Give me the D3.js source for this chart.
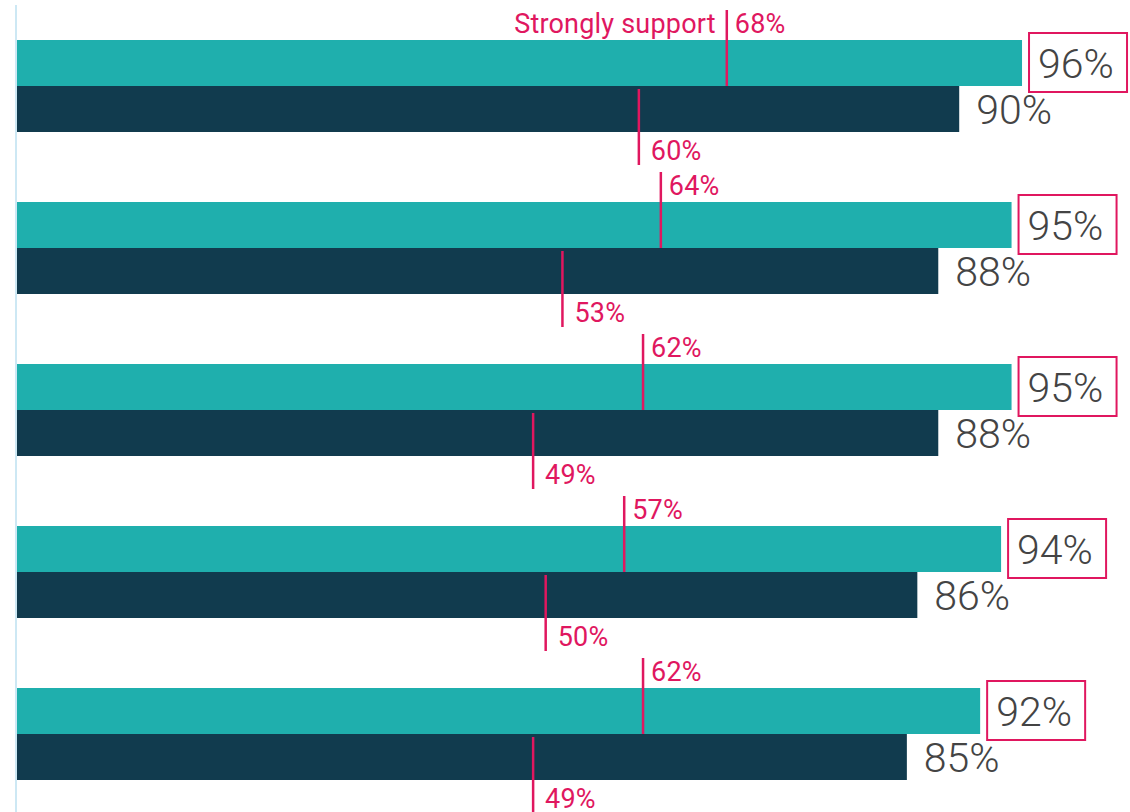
<!DOCTYPE html>
<meta charset="utf-8">
<style>
body { margin: 0; background: #fff; }
text { font-family: Roboto, 'Open Sans', sans-serif; }
.pink { fill: #e0175f; font-size: 27px; letter-spacing: 0.2px; }
.big { fill: #444; font-size: 41px; font-weight: 300; }
</style>
<svg width="1130" height="812"></svg>
<script src="https://d3js.org/d3.v7.min.js"></script>
<script>
// rows top to bottom (no row labels shown in the picture)
var groups = ["1", "2", "3", "4", "5"];
var totalTeal = [96, 95, 95, 94, 92];
var totalNavy = [90, 88, 88, 86, 85];
// strongly-support markers, positions
var strongTeal = [67.8, 61.5, 59.8, 58.0, 59.8];
var strongNavy = [59.4, 52.1, 49.3, 50.5, 49.3];
var strongTealLabels = ["68%", "64%", "62%", "57%", "62%"];
var strongNavyLabels = ["60%", "53%", "49%", "50%", "49%"];
var series = ["teal", "navy"];

var svg = d3.select("svg");
var teal = "#1fafad", navy = "#113b4e", pink = "#e0175f";

var x = d3.scaleLinear().domain([0, 100]).range([17, 17 + 1046.9]);
var y = d3.scaleBand().domain(groups).range([40, 780]).paddingInner(70 / 162).paddingOuter(0);
var ySub = d3.scaleBand().domain(series).range([0, y.bandwidth()]);
var bh = ySub.bandwidth();

// axis line on the left
svg.append("line")
	.attr("x1", 16).attr("x2", 16)
	.attr("y1", 5).attr("y2", 812)
	.attr("stroke", "#cde8f4").attr("stroke-width", 2);

var rows = groups.map(function(g, i) {
	return { g: g, teal: totalTeal[i], navy: totalNavy[i],
		sTeal: strongTeal[i], sNavy: strongNavy[i],
		lTeal: strongTealLabels[i], lNavy: strongNavyLabels[i], i: i };
});

var row = svg.selectAll("g.row")
	.data(rows)
	.enter().append("g")
	.attr("class", "row")
	.attr("transform", function(d) { return "translate(0," + y(d.g) + ")"; });

row.append("rect")
	.attr("x", x(0)).attr("y", ySub("teal"))
	.attr("width", function(d) { return x(d.teal) - x(0); })
	.attr("height", bh)
	.attr("fill", teal);

row.append("rect")
	.attr("x", x(0)).attr("y", ySub("navy"))
	.attr("width", function(d) { return x(d.navy) - x(0); })
	.attr("height", bh)
	.attr("fill", navy);

// teal marker
row.append("line")
	.attr("x1", function(d) { return x(d.sTeal); })
	.attr("x2", function(d) { return x(d.sTeal); })
	.attr("y1", ySub("teal") - 30).attr("y2", ySub("teal") + bh)
	.attr("stroke", pink).attr("stroke-width", 2.5);

row.append("text")
	.attr("class", "pink")
	.attr("x", function(d) { return x(d.sTeal) + 8; })
	.attr("y", ySub("teal") - 7)
	.text(function(d) { return d.lTeal; });

// navy marker
row.append("line")
	.attr("x1", function(d) { return x(d.sNavy); })
	.attr("x2", function(d) { return x(d.sNavy); })
	.attr("y1", ySub("navy") + 3).attr("y2", ySub("navy") + bh + 33)
	.attr("stroke", pink).attr("stroke-width", 2.5);

row.append("text")
	.attr("class", "pink")
	.attr("x", function(d) { return x(d.sNavy) + 12; })
	.attr("y", ySub("navy") + bh + 28)
	.text(function(d) { return d.lNavy; });

// "Strongly support" only on the first row
row.filter(function(d) { return d.i === 0; })
	.append("text")
	.attr("class", "pink")
	.attr("text-anchor", "end")
	.attr("x", function(d) { return x(d.sTeal) - 11; })
	.attr("y", ySub("teal") - 7)
	.text("Strongly support");

// total labels
row.append("rect")
	.attr("x", function(d) { return x(d.teal) + 7; })
	.attr("y", ySub("teal") - 7)
	.attr("width", 98).attr("height", 59)
	.attr("fill", "none").attr("stroke", pink).attr("stroke-width", 2);

row.append("text")
	.attr("class", "big")
	.attr("x", function(d) { return x(d.teal) + 16; })
	.attr("y", ySub("teal") + bh / 2 + 15)
	.text(function(d) { return d.teal + "%"; });

row.append("text")
	.attr("class", "big")
	.attr("x", function(d) { return x(d.navy) + 17; })
	.attr("y", ySub("navy") + bh / 2 + 15)
	.text(function(d) { return d.navy + "%"; });
</script>
